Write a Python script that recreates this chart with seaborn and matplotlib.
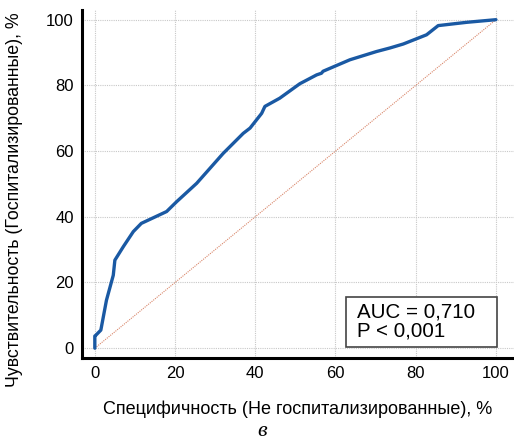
import seaborn as sns
import matplotlib.pyplot as plt
import pandas as pd
from matplotlib.ticker import MultipleLocator
from matplotlib.patches import Rectangle

# --- data ---
specificity = [0, 0, 0.3, 1.5, 2.9, 4.6, 5.0, 7.1, 9.6, 11.6, 17.9, 20.4, 25.4, 32.0, 37.0,
               38.7, 41.6, 42.4, 46.1, 51.1, 55.3, 56.5, 56.9, 63.6, 70.2, 73.6, 76.9, 82.7,
               85.6, 92.7, 100]
sensitivity = [0, 3.7, 4.0, 5.5, 14.6, 22.2, 26.8, 30.9, 35.5, 38.0, 41.6, 44.6, 50.2, 59.3,
               65.4, 67.0, 71.5, 73.6, 76.1, 80.5, 83.2, 83.7, 84.3, 87.8, 90.3, 91.4, 92.6,
               95.4, 98.2, 99.2, 100]
diag = [0, 100]
ticks = [0, 20, 40, 60, 80, 100]
auc_text = "AUC = 0,710\nP < 0,001"

roc = pd.DataFrame({"spec": specificity, "sens": sensitivity})
ref = pd.DataFrame({"x": diag, "y": diag})

sns.set_style("white")
plt.rcParams['font.family'] = ['Liberation Sans', 'DejaVu Sans']
plt.rcParams['text.color'] = 'black'
plt.rcParams['axes.labelcolor'] = 'black'

fig = plt.figure(figsize=(5.14, 4.47), dpi=100)
ax = fig.add_axes([0.1595, 0.199, 0.8405, 0.779])

sns.lineplot(data=ref, x="x", y="y", ax=ax, color="#d9866a", lw=0.8,
             linestyle=(0, (1, 1)), sort=False, estimator=None)
sns.lineplot(data=roc, x="spec", y="sens", ax=ax, color="#1a59a3", lw=2.4,
             sort=False, estimator=None)

ax.set_xlim(-3.2, 104.5)
ax.set_ylim(-3.0, 103.0)
ax.set_xticks(ticks)
ax.set_yticks(ticks)
ax.xaxis.set_minor_locator(MultipleLocator(5))
ax.yaxis.set_minor_locator(MultipleLocator(5))

ax.grid(True, which="major", color="#c8c8c8", linestyle=(0, (1, 1)), lw=0.8)
for s in ["top", "right"]:
    ax.spines[s].set_visible(False)
for s in ["left", "bottom"]:
    ax.spines[s].set_linewidth(2.2)
    ax.spines[s].set_color("black")

ax.tick_params(axis="x", which="major", direction="in", length=6, width=1.3,
               labelsize=12, pad=6, colors="black")
ax.tick_params(axis="x", which="minor", direction="in", length=3, width=1.1, colors="black")
ax.tick_params(axis="y", which="major", direction="in", length=9, width=1.3,
               labelsize=12, pad=6, colors="black")
ax.tick_params(axis="y", which="minor", direction="in", length=5, width=1.1, colors="black")

ax.set_xlabel("Специфичность (Не госпитализированные), %", fontsize=13, labelpad=14)
ax.set_ylabel("")
fig.text(15 / 514, 1 - 200 / 447, "Чувствительность (Госпитализированные), %",
         fontsize=12.8, rotation=90, ha="center", va="center")

ax.add_patch(Rectangle((62.6, 0.3), 37.6, 15.2, fill=True, fc="white",
                       ec="#444444", lw=1.2, zorder=5))
ax.text(65.3, 14.0, auc_text, fontsize=14.8, va="top", ha="left", linespacing=1.0,
        zorder=6)

fig.text(0.51, 1 - 432 / 447, "в", family=["Liberation Serif", "DejaVu Serif"],
         style="italic", fontsize=16, ha="center", va="center")

plt.savefig("out.png", dpi=100)
